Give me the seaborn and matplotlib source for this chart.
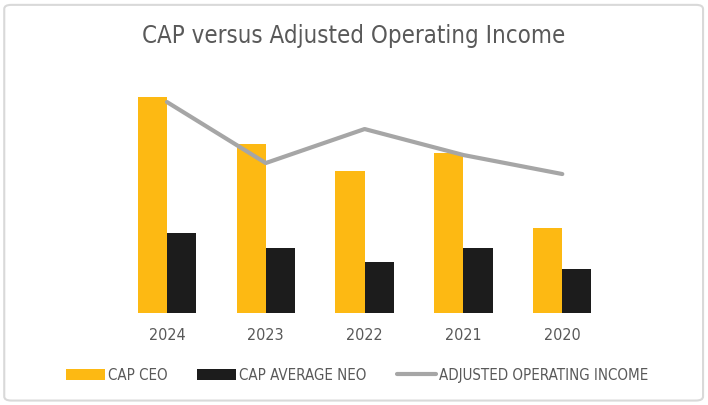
import matplotlib
matplotlib.use("Agg")
import matplotlib.pyplot as plt
import seaborn as sns
import pandas as pd
import numpy as np
from matplotlib.patches import FancyBboxPatch, Patch
from matplotlib.lines import Line2D

years = ["2024", "2023", "2022", "2021", "2020"]
cap_ceo = [216, 169, 142, 160, 85]
cap_neo = [80, 65, 51, 65, 44]
adj_income = [211, 150, 184, 158, 139]
series = ["CAP CEO", "CAP AVERAGE NEO"]
line_label = "ADJUSTED OPERATING INCOME"

gold = "#FDB913"
black = "#1C1C1C"
grey = "#A6A6A6"
txt = "#595959"

sns.set_theme(style="white")
plt.rcParams['font.family'] = ['DejaVu Sans']
plt.rcParams['font.stretch'] = 'condensed'

df = pd.DataFrame({
    "year": years * 2,
    "value": cap_ceo + cap_neo,
    "series": [series[0]] * len(years) + [series[1]] * len(years),
})

fig = plt.figure(figsize=(7.08, 4.05), dpi=100)
ax = fig.add_axes([0.166, 0.227, 0.698, 0.568])

sns.barplot(data=df, x="year", y="value", hue="series", order=years,
            palette=[gold, black], width=0.59, ax=ax, legend=False,
            saturation=1, linewidth=0)
sns.lineplot(x=np.arange(len(years)), y=adj_income, color=grey, linewidth=3,
             ax=ax, legend=False)

ax.set_xlim(-0.5, len(years) - 0.5)
ax.set_ylim(0, 230)
ax.set_xlabel("")
ax.set_ylabel("")
ax.set_yticks([])
ax.tick_params(axis="x", length=0, labelsize=11.5, labelcolor=txt, pad=11)
for s in ax.spines.values():
    s.set_visible(False)

fig.text(0.5, 0.91, "CAP versus Adjusted Operating Income", ha="center",
         va="center", fontsize=17.2, color=txt, fontstretch='condensed')

handles = [Patch(facecolor=gold, edgecolor="none"),
           Patch(facecolor=black, edgecolor="none"),
           Line2D([0], [0], color=grey, linewidth=3)]
fig.legend(handles, series + [line_label], loc="center",
           bbox_to_anchor=(0.504, 0.073), ncol=3, frameon=False,
           prop={'size': 10.8, 'stretch': 'condensed'}, labelcolor=txt,
           handlelength=2.6, handleheight=0.8,
           handletextpad=0.2, columnspacing=2.0)

border = FancyBboxPatch((0.006, 0.011), 0.987, 0.977,
                        boxstyle="round,pad=0,rounding_size=0.01",
                        transform=fig.transFigure, fill=False,
                        edgecolor="#D9D9D9", linewidth=1.5)
fig.patches.append(border)

fig.savefig("out.png", dpi=100)
